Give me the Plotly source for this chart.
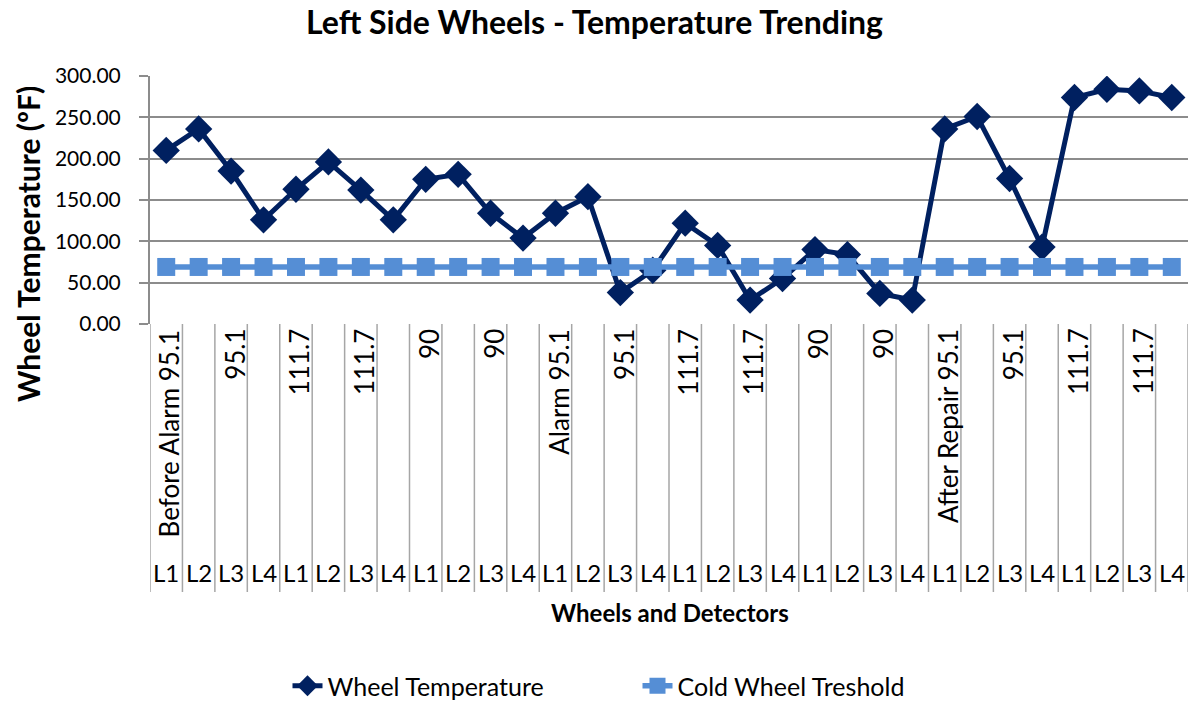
import plotly.graph_objects as go

wheels = ["L1", "L2", "L3", "L4"] * 8
group_labels = [
    "Before Alarm 95.1", "", "95.1", "", "111.7", "", "111.7", "", "90", "", "90", "",
    "Alarm 95.1", "", "95.1", "", "111.7", "", "111.7", "", "90", "", "90", "",
    "After Repair 95.1", "", "95.1", "", "111.7", "", "111.7", "",
]
wheel_temp = [
    210, 236, 185, 126, 163, 196, 162, 126, 175, 181, 134, 104,
    134, 154, 38, 65, 122, 95, 29, 55, 90, 84, 37, 29,
    236, 251, 176, 93, 274, 284, 282, 274,
]
threshold = [69] * 32

n = len(wheel_temp)
xs = list(range(n))

FONT = "Lato"
NAVY = "#002060"
LIGHT = "#558ED5"
GRID = "#8C8C8C"

fig = go.Figure()
fig.add_trace(go.Scatter(
    x=xs, y=wheel_temp, name="Wheel Temperature", mode="lines+markers",
    line=dict(color=NAVY, width=5),
    marker=dict(symbol="diamond", size=21, color=NAVY),
))
fig.add_trace(go.Scatter(
    x=xs, y=threshold, name="Cold Wheel Treshold", mode="lines+markers",
    line=dict(color=LIGHT, width=5.5),
    marker=dict(symbol="square", size=18, color=LIGHT),
))

W, H = 1189, 701
plot_left, plot_right = 150, 1188
plot_top, plot_bottom = 76, 324
ph = plot_bottom - plot_top
pw = plot_right - plot_left
sep_bottom = -(592 - plot_bottom) / ph

shapes = []
for k in range(n + 1):
    shapes.append(dict(type="line", xref="x", yref="paper", x0=k - 0.5, x1=k - 0.5,
                       y0=0, y1=sep_bottom, line=dict(color="#A6A6A6", width=1.5), layer="below"))

annotations = []
for i, lab in enumerate(group_labels):
    if lab:
        annotations.append(dict(x=i + 0.1, y=-(327 - plot_bottom) / ph, xref="x", yref="paper",
                                text=lab, textangle=-90, showarrow=False,
                                xanchor="center", yanchor="top",
                                font=dict(family=FONT, size=26, color="#000000")))
for i, lab in enumerate(wheels):
    annotations.append(dict(x=i, y=-(572 - plot_bottom) / ph, xref="x", yref="paper",
                            text=lab, showarrow=False, xanchor="center", yanchor="middle",
                            font=dict(family=FONT, size=24, color="#000000")))
annotations.append(dict(x=(670 - plot_left) / pw, y=-(613 - plot_bottom) / ph,
                        xref="paper", yref="paper",
                        text="<b>Wheels and Detectors</b>", showarrow=False,
                        xanchor="center", yanchor="middle",
                        font=dict(family=FONT, size=24, color="#000000")))
annotations.append(dict(x=(28 - plot_left) / pw, y=(plot_bottom - 244) / ph,
                        xref="paper", yref="paper",
                        text="<b>Wheel Temperature (ºF)</b>", textangle=-90, showarrow=False,
                        xanchor="center", yanchor="middle",
                        font=dict(family=FONT, size=30, color="#000000")))

fig.update_layout(
    width=W, height=H,
    margin=dict(l=plot_left, r=W - plot_right, t=plot_top, b=H - plot_bottom),
    paper_bgcolor="white", plot_bgcolor="white",
    font=dict(family=FONT, color="#000000"),
    title=dict(text="<b>Left Side Wheels - Temperature Trending</b>",
               x=0.5, xanchor="center", y=1 - 23 / H, yanchor="middle",
               font=dict(family=FONT, size=32, color="#000000")),
    xaxis=dict(range=[-0.5, n - 0.5], tickvals=xs, showticklabels=False,
               showgrid=False, zeroline=False, showline=False, ticks=""),
    yaxis=dict(range=[0, 300], dtick=50, tickformat=".2f",
               showgrid=True, gridcolor=GRID, gridwidth=2,
               zeroline=False, showline=True, linecolor=GRID, linewidth=2,
               ticks="outside", ticklen=9, tickcolor=GRID, tickwidth=2,
               ticklabelstandoff=14,
               tickfont=dict(family=FONT, size=21, color="#000000")),
    legend=dict(orientation="h", xref="container", yref="container",
                x=(594.5 + 43) / W, xanchor="center", y=1 - 686 / H, yanchor="middle",
                font=dict(family=FONT, size=25, color="#000000"),
                entrywidth=305, entrywidthmode="pixels", tracegroupgap=0),
    shapes=shapes, annotations=annotations, showlegend=True,
)

fig.write_html("out.html", config={"displayModeBar": False},
               post_script="document.body.style.margin='0';document.body.style.overflow='hidden';")
